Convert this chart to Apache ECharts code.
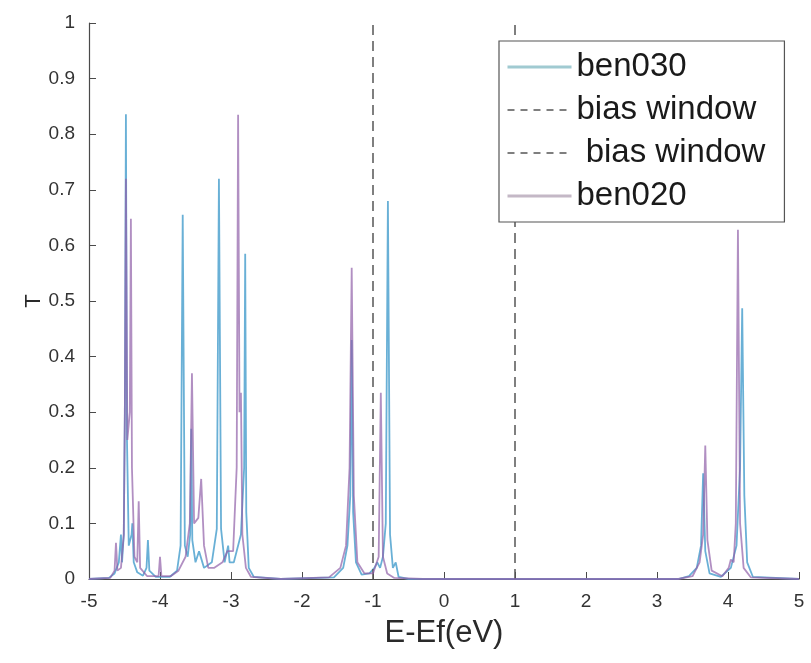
<!DOCTYPE html>
<html>
<head>
<meta charset="utf-8">
<script src="https://cdn.jsdelivr.net/npm/echarts@6/dist/echarts.min.js"></script>
<style>
html,body{margin:0;padding:0;background:#fff;}
#chart{width:811px;height:663px;}
</style>
</head>
<body>
<div id="chart"></div>
<script>
// ben030 transmission
var ben030X = [-5.0,-4.72,-4.64,-4.58,-4.55,-4.535,-4.51,-4.495,-4.48,-4.465,-4.44,-4.40,-4.39,-4.37,-4.32,-4.24,-4.19,-4.17,-4.15,-4.06,
  -3.86,-3.76,-3.71,-3.68,-3.65,-3.61,-3.575,-3.56,-3.545,-3.50,-3.45,-3.38,-3.27,-3.20,-3.17,-3.14,-3.09,-3.04,-3.02,
  -2.96,-2.86,-2.83,-2.815,-2.80,-2.785,-2.75,-2.68,-2.3,
  -1.55,-1.42,-1.36,-1.32,-1.30,-1.28,-1.24,-1.16,-1.05,-0.98,-0.94,-0.90,-0.86,-0.82,-0.79,-0.76,-0.72,-0.68,-0.64,-0.5,
  3.3,3.45,3.56,3.62,3.65,3.68,3.74,3.9,4.04,4.12,4.17,4.20,4.23,4.27,4.35,5.0];
var ben030T = [0.0,0.002,0.01,0.03,0.08,0.03,0.08,0.3,0.836,0.25,0.06,0.08,0.1,0.03,0.012,0.006,0.02,0.07,0.015,0.004,
  0.004,0.015,0.06,0.655,0.06,0.04,0.08,0.27,0.07,0.03,0.05,0.02,0.03,0.09,0.72,0.09,0.03,0.06,0.03,
  0.03,0.08,0.16,0.2,0.585,0.12,0.02,0.004,0.0,
  0.003,0.02,0.06,0.15,0.43,0.12,0.03,0.008,0.01,0.02,0.03,0.02,0.04,0.1,0.68,0.08,0.02,0.03,0.004,0.0,
  0.0,0.005,0.02,0.06,0.19,0.05,0.01,0.004,0.02,0.06,0.2,0.487,0.15,0.03,0.004,0.0];

// ben020 transmission
var ben020X = [-5.0,-4.70,-4.64,-4.62,-4.60,-4.55,-4.51,-4.495,-4.48,-4.46,-4.425,-4.41,-4.395,-4.36,-4.32,-4.30,-4.28,-4.18,-4.02,-4.00,-3.98,
  -3.85,-3.74,-3.64,-3.58,-3.55,-3.52,-3.46,-3.42,-3.38,-3.32,-3.24,-3.12,-3.05,-2.97,-2.92,-2.90,-2.88,-2.86,-2.84,-2.79,-2.72,-2.3,
  -1.62,-1.46,-1.38,-1.33,-1.30,-1.27,-1.22,-1.12,-1.00,-0.92,-0.89,-0.86,-0.80,-0.70,-0.3,
  3.3,3.5,3.6,3.65,3.68,3.71,3.77,3.92,4.01,4.04,4.08,4.11,4.14,4.17,4.22,4.32,5.0];
var ben020T = [0.0,0.002,0.015,0.065,0.015,0.02,0.08,0.3,0.72,0.25,0.3,0.648,0.2,0.04,0.03,0.14,0.02,0.005,0.005,0.04,0.005,
  0.005,0.015,0.04,0.1,0.37,0.1,0.11,0.18,0.06,0.02,0.02,0.03,0.05,0.05,0.2,0.835,0.3,0.335,0.08,0.02,0.004,0.0,
  0.003,0.02,0.06,0.2,0.56,0.15,0.03,0.01,0.01,0.04,0.335,0.04,0.01,0.002,0.0,
  0.0,0.005,0.03,0.08,0.24,0.07,0.015,0.005,0.02,0.035,0.03,0.1,0.628,0.1,0.02,0.003,0.0];

// bias window lines
var biasLeftX = [-1, -1];
var biasRightX = [1, 1];
var biasT = [0, 1];

var xTicks = [-5,-4,-3,-2,-1,0,1,2,3,4,5];
var yTicks = [0,0.1,0.2,0.3,0.4,0.5,0.6,0.7,0.8,0.9,1];

function zip(xs, ys){ return xs.map(function(x,i){ return [x, ys[i]]; }); }

var chart = echarts.init(document.getElementById('chart'), null, {renderer:'canvas'});
var axisColor = '#4a4a4a';
var labelColor = '#333';
var font = 'Liberation Sans, Arial, sans-serif';

chart.setOption({
  animation: false,
  backgroundColor: '#fff',
  grid: {left: 89, right: 12, top: 23, bottom: 84, containLabel: false},
  xAxis: {
    type: 'value', min: xTicks[0], max: xTicks[xTicks.length-1], interval: 1,
    name: 'E-Ef(eV)', nameLocation: 'middle', nameGap: 39,
    nameTextStyle: {fontSize: 31, color: '#2a2a2a', fontFamily: font},
    axisLine: {onZero: false, lineStyle: {color: axisColor, width: 1.2}},
    axisTick: {inside: true, length: 7, lineStyle: {color: axisColor}},
    axisLabel: {fontSize: 19, color: labelColor, margin: 13, fontFamily: font},
    splitLine: {show: false}
  },
  yAxis: {
    type: 'value', min: yTicks[0], max: yTicks[yTicks.length-1], interval: 0.1,
    name: 'T', nameLocation: 'middle', nameGap: 44, nameRotate: 90, nameMoveOverlap: false,
    nameTextStyle: {fontSize: 22, color: '#2a2a2a', fontFamily: font},
    axisLine: {show: true, onZero: false, lineStyle: {color: axisColor, width: 1.2}},
    axisTick: {show: true, inside: true, length: 7, lineStyle: {color: axisColor}},
    axisLabel: {fontSize: 19, color: labelColor, margin: 14, fontFamily: font},
    splitLine: {show: false}
  },
  legend: {
    orient: 'vertical', left: 499, top: 41,
    backgroundColor: '#fff', borderColor: '#555', borderWidth: 1.2,
    padding: [8, 19, 8, 7],
    itemWidth: 64, itemHeight: 20, itemGap: 7,
    itemStyle: {opacity: 0},
    textStyle: {fontSize: 33, color: '#1a1a1a', fontFamily: font, lineHeight: 36},
    data: [
      {name: 'ben030', lineStyle: {color: '#8fc1c9', width: 3}},
      {name: 'bias window', lineStyle: {color: '#555', width: 1.5, type: [7, 6]}},
      {name: ' bias window', lineStyle: {color: '#555', width: 1.5, type: [7, 6]}},
      {name: 'ben020', lineStyle: {color: '#ab9aae', width: 3}}
    ]
  },
  series: [
    {name: 'ben030', type: 'line', data: zip(ben030X, ben030T), symbol: 'none',
      lineStyle: {color: '#4fa2cf', width: 1.8, opacity: 0.85}, itemStyle: {color: '#8fc1c9'}, z: 2},
    {name: 'bias window', type: 'line', data: zip(biasLeftX, biasT), symbol: 'none',
      lineStyle: {color: '#555', width: 1.5, type: [10, 6]}, itemStyle: {color: '#555'}, z: 3},
    {name: ' bias window', type: 'line', data: zip(biasRightX, biasT), symbol: 'none',
      lineStyle: {color: '#555', width: 1.5, type: [10, 6]}, itemStyle: {color: '#555'}, z: 3},
    {name: 'ben020', type: 'line', data: zip(ben020X, ben020T), symbol: 'none',
      lineStyle: {color: '#9060a8', width: 1.8, opacity: 0.7}, itemStyle: {color: '#ab9aae'}, z: 4}
  ]
});
</script>
</body>
</html>
